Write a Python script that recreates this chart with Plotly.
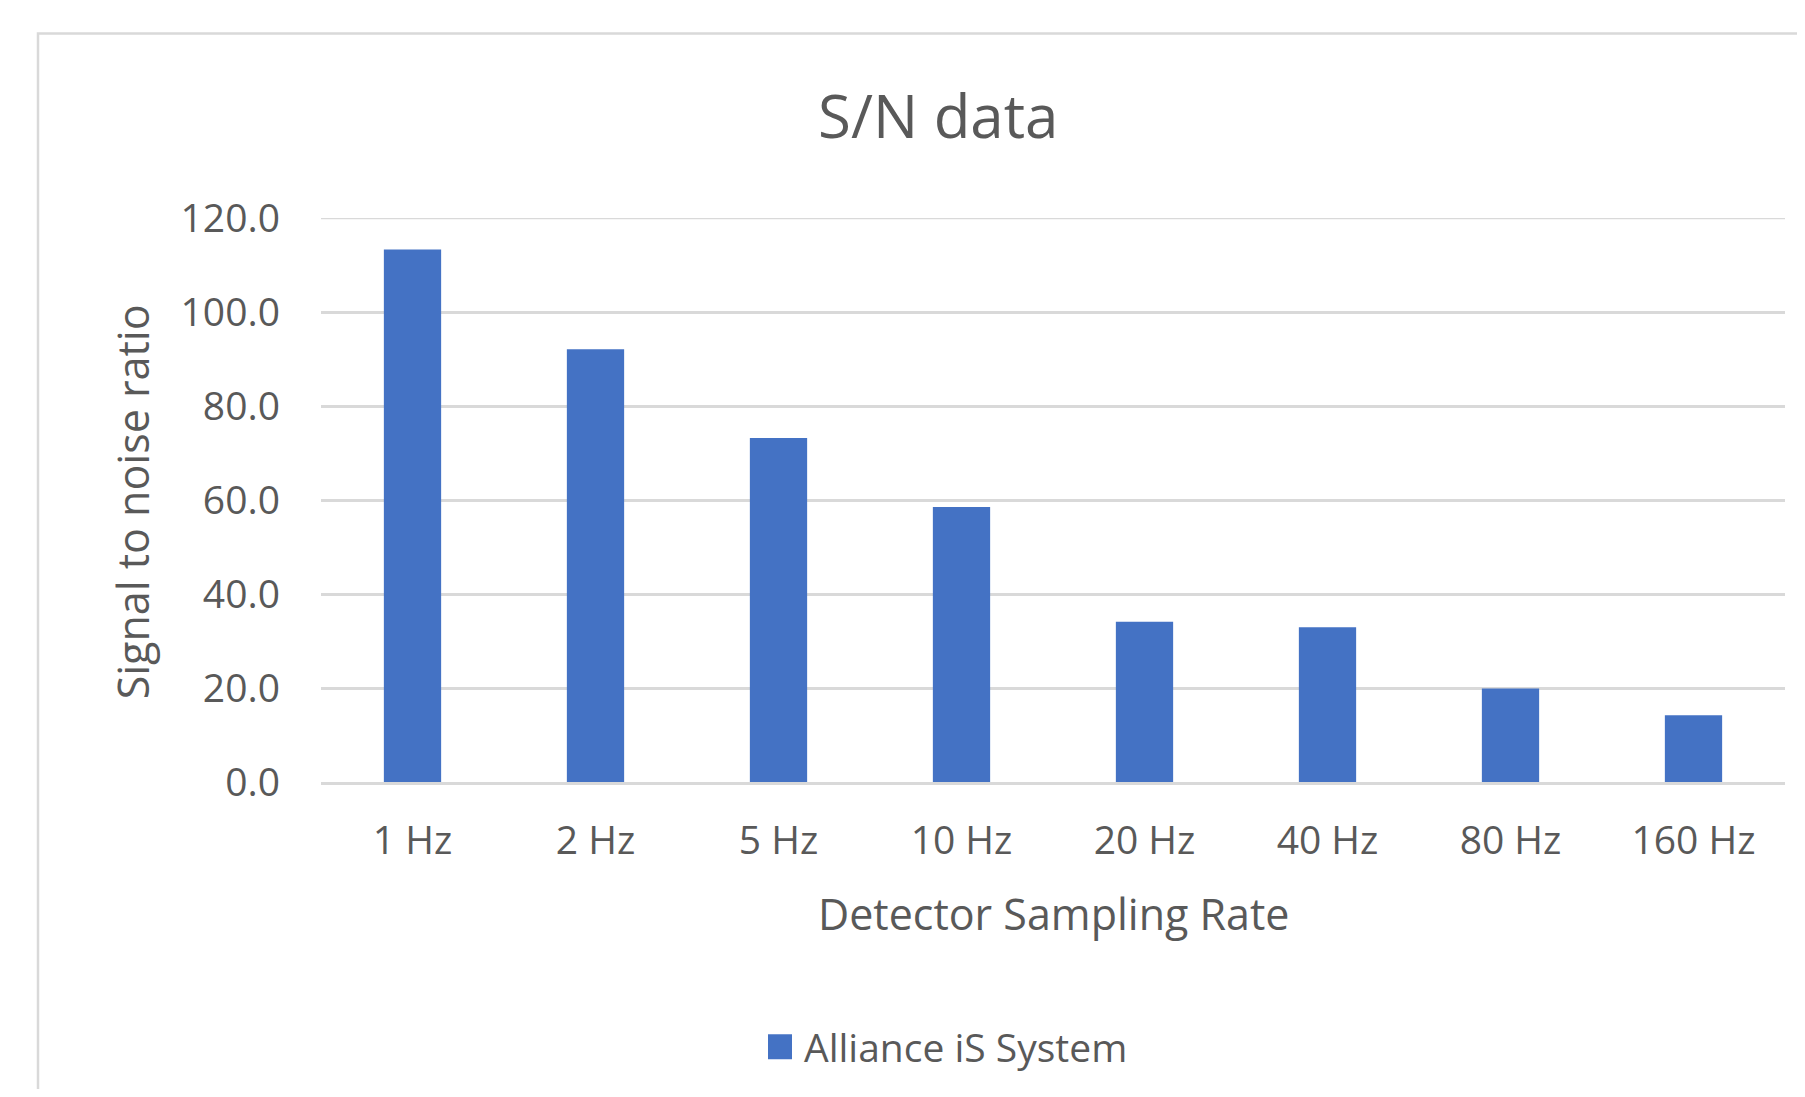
import plotly.graph_objects as go

categories = ["1 Hz", "2 Hz", "5 Hz", "10 Hz", "20 Hz", "40 Hz", "80 Hz", "160 Hz"]
sn_values = [113.3, 92.1, 73.2, 58.5, 34.1, 32.9, 19.9, 14.2]
series_name = "Alliance iS System"
y_tick_values = [0, 20, 40, 60, 80, 100, 120]
y_tick_labels = ["0.0", "20.0", "40.0", "60.0", "80.0", "100.0", "120.0"]
y_max = 120
chart_title = "S/N data"
x_title = "Detector Sampling Rate"
y_title = "Signal to noise ratio"

W, H = 1789, 1081
OX, OY = 8, 8
PL, PR, PT, PB = 321, 1785, 217.6, 781.7

TEXT = "#595959"
BAR = "#4472C4"
GRID = "#d9d9d9"
FONT = "Open Sans"


def px(X):
    return (X - PL) / (PR - PL)


def py(Y):
    return (PB - Y) / (PB - PT)


fig = go.Figure()
fig.add_trace(go.Bar(x=categories, y=sn_values, name=series_name,
                     marker=dict(color=BAR, line=dict(width=0)),
                     showlegend=False))

fig.update_layout(
    width=W, height=H,
    margin=dict(l=PL - OX, r=W - (PR - OX), t=PT - OY, b=H - (PB - OY), pad=0, autoexpand=False),
    paper_bgcolor="white", plot_bgcolor="white",
    bargap=0.687,
    font=dict(family=FONT, color=TEXT),
    showlegend=False,
)
fig.update_xaxes(showgrid=False, showline=True, linecolor=GRID, linewidth=2.5,
                 ticks="", tickfont=dict(size=39, color=TEXT, family=FONT),
                 ticklabelstandoff=22)
fig.update_yaxes(range=[0, y_max], tickvals=y_tick_values, ticktext=y_tick_labels,
                 showgrid=True, gridcolor=GRID, gridwidth=2.5, zeroline=False,
                 showline=False, ticks="",
                 tickfont=dict(size=39, color=TEXT, family=FONT),
                 ticklabelstandoff=40)

# top gridline at the range edge (plotly omits gridlines at the plot edge)
fig.add_shape(type="line", xref="paper", yref="y", x0=0, x1=1, y0=y_max, y1=y_max,
              layer="below", line=dict(color=GRID, width=2.5))

annotations = [
    dict(text=chart_title, x=px(938), y=py(115), font=dict(size=60, color=TEXT, family=FONT)),
    dict(text=x_title, x=px(1053), y=py(913), font=dict(size=43, color=TEXT, family=FONT)),
    dict(text=y_title, x=px(132), y=py(502), textangle=-90, font=dict(size=43, color=TEXT, family=FONT)),
    dict(text=series_name, x=px(802), y=py(1046), xanchor="left", font=dict(size=39, color=TEXT, family=FONT)),
]
for a in annotations:
    a.setdefault("xanchor", "center")
    fig.add_annotation(xref="paper", yref="paper", yanchor="middle", showarrow=False, **a)

fig.add_shape(type="rect", xref="paper", yref="paper",
              x0=px(768), x1=px(792), y0=py(1059), y1=py(1034),
              fillcolor=BAR, line=dict(width=0))
fig.add_shape(type="rect", xref="paper", yref="paper", layer="below",
              x0=px(38), x1=px(1950), y0=py(33), y1=py(1250),
              fillcolor="rgba(0,0,0,0)", line=dict(color=GRID, width=2.5))

fig.write_html("out.html")
